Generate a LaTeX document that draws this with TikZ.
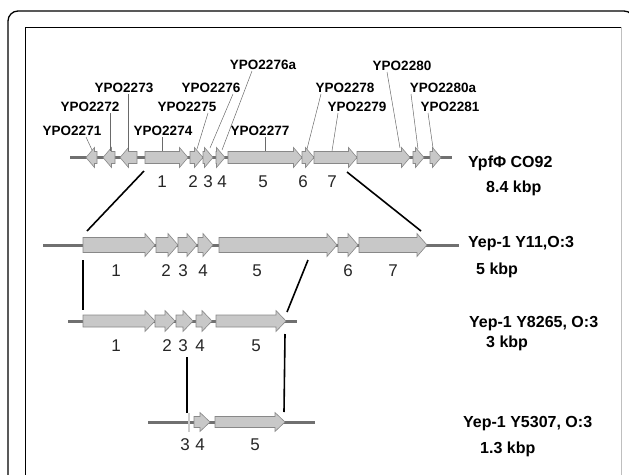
\documentclass[tikz,border=0pt]{standalone}
\usepackage{fontspec}
\setmainfont{Liberation Sans}
\usetikzlibrary{positioning}
\definecolor{genefill}{HTML}{C8C8C8}
\definecolor{genedraw}{HTML}{888888}
\definecolor{backbone}{HTML}{707070}
\definecolor{leadline}{HTML}{6A6A6A}

% row settings: y, body half, head half, head length
\newcommand{\setrow}[4]{\def\rowy{#1}\def\bodyh{#2}\def\headh{#3}\def\headl{#4}}
% gene pointing right, from #1 to tip #2
\newcommand{\fwdgene}[2]{%
  \pgfmathsetmacro{\hx}{#2-min(\headl,#2-#1)}
  \draw[gene] (#1,{\rowy-\bodyh}) -- (\hx,{\rowy-\bodyh}) -- (\hx,{\rowy-\headh})
    -- (#2,\rowy) -- (\hx,{\rowy+\headh}) -- (\hx,{\rowy+\bodyh}) -- (#1,{\rowy+\bodyh}) -- cycle;}
% gene pointing left, tip #1, back end #2
\newcommand{\revgene}[2]{%
  \pgfmathsetmacro{\hx}{#1+min(\headl,#2-#1)}
  \draw[gene] (#2,{\rowy-\bodyh}) -- (\hx,{\rowy-\bodyh}) -- (\hx,{\rowy-\headh})
    -- (#1,\rowy) -- (\hx,{\rowy+\headh}) -- (\hx,{\rowy+\bodyh}) -- (#2,{\rowy+\bodyh}) -- cycle;}

\begin{document}
\begin{tikzpicture}[x=1pt,y=-1pt,
  gene/.style={draw=genedraw,fill=genefill,line width=0.6pt,line join=miter},
  dna/.style={draw=backbone,line width=3pt},
  leader/.style={draw=leadline,line width=0.5pt},
  link/.style={draw=black,line width=1.6pt},
  genelbl/.style={font=\bfseries\fontsize{13.5}{15}\selectfont,inner sep=0pt,anchor=base},
  num/.style={font=\fontsize{17}{19}\selectfont,text=black!85,inner sep=0pt,anchor=base},
  strain/.style={font=\bfseries\fontsize{16}{18}\selectfont,inner sep=0pt,anchor=base west}]
\useasboundingbox (0,0) rectangle (629,474);
\clip (0,0) rectangle (629,474);

% frames
\draw[line width=1.3pt,rounded corners=10pt] (8,490) -- (8,11) -- (634,11) -- (634,490);
\draw[line width=0.8pt] (25,490) -- (25,27) -- (621,27);
\draw[line width=0.8pt,black!25] (621,27) -- (621,490);

% YpfPhi CO92
\draw[dna] (70,157.5) -- (452,157.5);
\setrow{157.5}{6}{10}{8.5}
\revgene{86}{97}
\revgene{103}{115}
\revgene{120}{137}
\foreach \a/\b in {145/188,190/203,203/213,216/225,228/302,302/314,314/357,357/410,413/424,430/441}
  \fwdgene{\a}{\b};
\foreach \id/\x/\y in {2271/72/135,2272/90/111,2273/124/92,2274/163/135,2275/187/111,
    2276/211/92,2276a/263/69,2277/260/135,2278/345/92,2279/357/111,2280/402/70,
    2280a/443/92,2281/450/111}
  \node[genelbl] (y\id) at (\x,\y) {YPO\id};
\foreach \id/\dx/\ex/\ey in {2271/14/92/150,2272/20/110/151,2273/4/128/151,2274/-1/162/151,
    2275/21/197/149,2276/22/210/148,2276a/-11/222/150,2277/5/265/151,2278/-24/307/149,
    2279/-19/332/151,2280/-15/400/148,2280a/-32/418/149,2281/-22/433/148} {
  \coordinate (t\id) at (\ex,\ey);
  \draw[leader] ([shift={(\dx,2)}]y\id.base) -- (t\id);
}
\foreach \n/\x in {1/162,2/193,3/208,4/222,5/263,6/303,7/332}
  \node[num] (a\n) at (\x,187) {\n};
\node[strain] (sA) at (468,167) {YpfΦ CO92};
\node[strain] (kA) at (486,192) {8.4 kbp};

% Yep-1 Y11
\draw[dna] (43,245) -- (459,245);
\setrow{245}{7.5}{11.5}{10}
\foreach \a/\b in {83/155,156/178,178/197,198/213,219/337,338/358,359/427}
  \fwdgene{\a}{\b};
\foreach \n/\x in {1/116,2/166,3/183,4/203,5/257,6/348,7/393}
  \node[num] (b\n) at (\x,276) {\n};
\node[strain] (sB) at (468,247) {Yep-1 Y11,O:3};
\node[strain] (kB) at (476,274) {5 kbp};

% Yep-1 Y8265
\draw[dna] (68,321) -- (297,321);
\setrow{321}{6}{10.5}{10}
\foreach \a/\b in {83/155,155/175,176/193,196/212,216/286}
  \fwdgene{\a}{\b};
\foreach \n/\x in {1/116,2/167,3/183,4/200,5/256}
  \node[num] (c\n) at (\x,351) {\n};
\node[strain] (sC) at (469,327) {Yep-1 Y8265, O:3};
\node[strain] (kC) at (486,347) {3 kbp};

% Yep-1 Y5307
\draw[dna] (148,422) -- (315,422);
\draw[black!20,line width=2pt] (189,413) -- (189,432);
\setrow{422}{5.5}{9.5}{10}
\fwdgene{194}{210}
\fwdgene{215}{285}
\foreach \n/\x in {3/185,4/200,5/255}
  \node[num] (d\n) at (\x,450) {\n};
\node[strain] (sD) at (463,427) {Yep-1 Y5307, O:3};
\node[strain] (kD) at (480,453) {1.3 kbp};

% deletion links
\coordinate (ab1) at (144,171); \coordinate (ab2) at (87,231);
\coordinate (ab3) at (347,172); \coordinate (ab4) at (421,231);
\coordinate (bc1) at (83,260);  \coordinate (bc2) at (83,310);
\coordinate (bc3) at (308,260); \coordinate (bc4) at (287,312);
\coordinate (cd1) at (187,357); \coordinate (cd2) at (187,413);
\coordinate (cd3) at (285,334); \coordinate (cd4) at (284,412);
\draw[link] (ab1) -- (ab2);
\draw[link] (ab3) -- (ab4);
\draw[link] (bc1) -- (bc2);
\draw[link] (bc3) -- (bc4);
\draw[link] (cd1) -- (cd2);
\draw[link] (cd3) -- (cd4);
\end{tikzpicture}
\end{document}
